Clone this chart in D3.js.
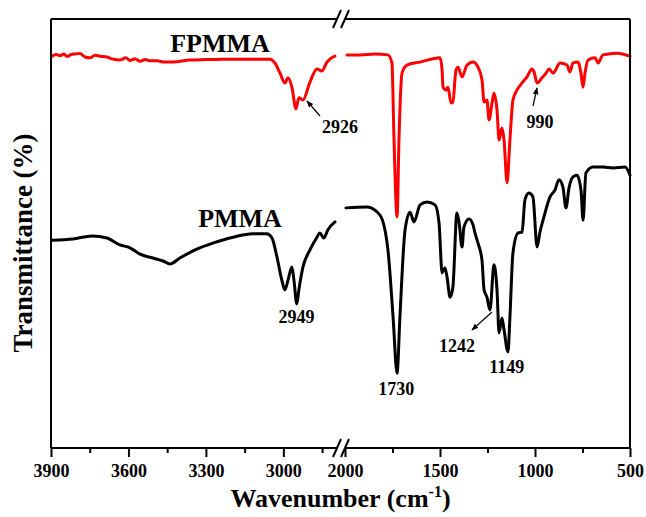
<!DOCTYPE html>
<html><head><meta charset="utf-8">
<script src="https://cdn.jsdelivr.net/npm/d3@7"></script>
<style>
html,body{margin:0;padding:0;background:#fff;}
svg{display:block;}
text{font-family:"Times New Roman","Liberation Serif",serif;font-weight:bold;fill:#000;}
</style></head>
<body>
<svg id="chart" width="646" height="517"></svg>
<script>
// ---------- data ----------
const leftDomain = [3900, 2800];
const rightDomain = [2000, 500];
const leftMajorTicks = [3900, 3600, 3300, 3000];
const leftMinorTicks = [3750, 3450, 3150, 2850];
const rightMajorTicks = [2000, 1500, 1000, 500];
const rightMinorTicks = [1750, 1250, 750];

// PMMA (black) — left segment
const pmmaLeftWn = [3896,3815,3741,3683,3633,3594,3555,3505,3466,3439,3401,3335,3273,3195,3118,3064,3044,3025,3006,2994,2982,2967,2959,2948,2940,2924,2897,2870,2859,2843,2828,2800];
const pmmaLeftT  = [48.9,49.2,49.9,49.4,47.8,47.1,45.6,44.7,44.0,43.3,44.7,46.8,48.2,49.6,50.4,50.4,49.4,45.0,39.5,37.2,39.5,42.6,39.5,33.9,37.2,42.6,46.6,49.6,50.6,49.4,51.3,53.2];
// PMMA (black) — right segment
const pmmaRightWn = [1995,1884,1816,1774,1747,1726,1711,1684,1658,1637,1605,1568,1526,1505,1489,1474,1463,1447,1432,1411,1400,1384,1374,1347,1326,1316,1300,1279,1268,1253,1237,1216,1200,1189,1174,1163,1142,1132,1116,1089,1068,1053,1032,1011,989,974,953,921,895,874,853,837,821,800,779,758,747,732,695,642,589,526,500];
const pmmaRightT  = [56.5,56.7,54.8,46.6,30.8,17.6,30.8,51.3,55.5,53.2,57.2,57.9,57.2,52.9,41.2,42.4,40.2,35.5,37.9,55.3,53.2,47.3,52.0,53.9,52.5,50.6,48.2,44.2,37.2,35.5,32.5,43.1,37.2,27.1,30.6,27.8,22.6,30.8,45.9,50.6,50.8,58.4,60.0,59.1,47.3,50.8,54.4,59.1,60.7,63.1,61.4,56.5,61.2,63.8,64.2,60.7,53.6,64.7,66.1,66.1,65.9,66.1,64.2];

// FPMMA (red) — left segment
const fpmmaLeftWn = [3896,3880,3865,3850,3838,3822,3807,3788,3768,3749,3730,3710,3683,3660,3633,3610,3594,3575,3555,3535,3517,3490,3459,3428,3362,3300,3234,3130,3052,3033,3013,2994,2982,2967,2951,2940,2924,2897,2870,2851,2831,2808,2800];
const fpmmaLeftT  = [92.2,92.6,92.3,92.7,92.1,92.6,92.7,92.8,92.0,91.8,92.4,92.2,92.0,91.5,91.3,91.8,91.2,91.6,91.0,91.4,91.1,91.1,90.8,90.8,91.3,91.4,91.5,91.5,91.5,90.6,88.2,85.9,87.1,84.9,79.8,82.4,81.9,86.1,89.2,88.7,90.8,92.0,92.2];
// FPMMA (red) — right segment
const fpmmaRightWn = [1989,1921,1842,1774,1753,1742,1726,1716,1700,1674,1605,1500,1489,1484,1468,1458,1442,1432,1416,1405,1384,1358,1326,1300,1279,1268,1253,1242,1226,1216,1200,1189,1174,1163,1147,1132,1116,1095,1068,1042,1016,1005,989,963,942,926,905,868,832,816,800,774,758,747,737,721,684,668,642,568,500];
const fpmmaRightT  = [92.5,92.5,92.7,92.5,90.6,72.5,54.4,72.5,88.2,90.1,90.8,91.8,88.9,84.9,84.2,84.9,81.2,81.4,88.9,89.6,87.3,90.1,90.8,89.6,86.6,81.4,81.9,77.2,81.2,83.5,79.5,72.5,75.3,72.5,62.4,72.5,81.9,84.2,85.9,87.3,89.2,88.5,85.9,87.1,88.2,89.2,88.2,90.6,90.1,88.5,90.6,90.8,88.2,84.9,88.2,91.3,91.8,90.6,92.5,92.9,92.2];

// annotations
const seriesNames = ["FPMMA", "PMMA"];
const peakLabels = ["2949", "1730", "1242", "1149", "2926", "990"];

// ---------- layout ----------
const svg = d3.select("#chart");
const X0 = 51, XB1 = 335, XB2 = 345, X1 = 630, YT = 19, YB = 448;
const xL = d3.scaleLinear().domain(leftDomain).range([X0, XB1]);
const xR = d3.scaleLinear().domain(rightDomain).range([XB2, X1]);
const y = d3.scaleLinear().domain([0, 100]).range([YB, 23]);

const zip = (a, b) => a.map((v, i) => [v, b[i]]);
function drawLine(wn, t, xs, color) {
  const line = d3.line().x(d => xs(d[0])).y(d => y(d[1])).curve(d3.curveMonotoneX);
  svg.append("path").datum(zip(wn, t)).attr("d", line)
    .attr("fill", "none").attr("stroke", color).attr("stroke-width", 3)
    .attr("stroke-linejoin", "round").attr("stroke-linecap", "round");
}
drawLine(fpmmaLeftWn, fpmmaLeftT, xL, "#ff0000");
drawLine(fpmmaRightWn, fpmmaRightT, xR, "#ff0000");
drawLine(pmmaLeftWn, pmmaLeftT, xL, "#000");
drawLine(pmmaRightWn, pmmaRightT, xR, "#000");

// ---------- frame with breaks ----------
const frame = svg.append("g").attr("stroke", "#000").attr("stroke-width", 2).attr("fill", "none");
const BL = 337, BR = 345;
[YT, YB].forEach(yy => {
  frame.append("line").attr("x1", X0).attr("x2", BL).attr("y1", yy).attr("y2", yy);
  frame.append("line").attr("x1", BR).attr("x2", X1).attr("y1", yy).attr("y2", yy);
  [BL, BR].forEach(cx => {
    frame.append("line").attr("x1", cx - 4).attr("y1", yy + 9).attr("x2", cx + 4).attr("y2", yy - 9);
  });
});
frame.append("line").attr("x1", X0).attr("x2", X0).attr("y1", YT).attr("y2", YB);
frame.append("line").attr("x1", X1).attr("x2", X1).attr("y1", YT).attr("y2", YB);

// ---------- axes ----------
function axisGroup(scale, major, minor) {
  const gMaj = svg.append("g").attr("transform", `translate(0,${YB})`)
    .call(d3.axisBottom(scale).tickValues(major).tickSize(9).tickPadding(4).tickFormat(d3.format("d")));
  const gMin = svg.append("g").attr("transform", `translate(0,${YB})`)
    .call(d3.axisBottom(scale).tickValues(minor).tickSize(5).tickFormat(""));
  [gMaj, gMin].forEach(g => {
    g.select(".domain").remove();
    g.selectAll(".tick line").attr("stroke", "#000").attr("stroke-width", 2);
  });
  gMaj.selectAll(".tick text").attr("font-size", 18).attr("fill", "#000")
    .attr("font-family", '"Times New Roman","Liberation Serif",serif').attr("font-weight", "bold")
    .attr("dy", null).attr("y", 29);
}
axisGroup(xL, leftMajorTicks, leftMinorTicks);
axisGroup(xR, rightMajorTicks, rightMinorTicks);

// axis titles
const xt = svg.append("text").attr("x", (X0 + X1) / 2).attr("y", 507)
  .attr("text-anchor", "middle").attr("font-size", 26);
xt.append("tspan").text("Wavenumber (cm");
xt.append("tspan").text("-1").attr("font-size", 16).attr("dy", -10);
xt.append("tspan").text(")").attr("dy", 10);

svg.append("text").attr("transform", `translate(32,243) rotate(-90)`)
  .attr("text-anchor", "middle").attr("font-size", 27).text("Transmittance (%)");

// series names
svg.append("text").attr("x", 220).attr("y", 52).attr("text-anchor", "middle").attr("font-size", 26).text(seriesNames[0]);
svg.append("text").attr("x", 240).attr("y", 227).attr("text-anchor", "middle").attr("font-size", 26).text(seriesNames[1]);

// peak labels
const lab = (t, xx, yy) => svg.append("text").attr("x", xx).attr("y", yy).attr("text-anchor", "middle").attr("font-size", 18).text(t);
lab(peakLabels[0], xL(2949), 323);
lab(peakLabels[1], xR(1730), 395);
lab(peakLabels[2], 457, 352);
lab(peakLabels[3], xR(1149), 373);
lab(peakLabels[4], 340, 133);
lab(peakLabels[5], 540, 128);

// arrows
svg.append("defs").append("marker").attr("id", "ah").attr("viewBox", "0 0 10 10")
  .attr("refX", 9).attr("refY", 5).attr("markerWidth", 7).attr("markerHeight", 7)
  .attr("markerUnits", "userSpaceOnUse").attr("orient", "auto")
  .append("path").attr("d", "M0,1 L10,5 L0,9 Z").attr("fill", "#000");
const arrow = (x1, y1, x2, y2) => svg.append("line").attr("x1", x1).attr("y1", y1).attr("x2", x2).attr("y2", y2)
  .attr("stroke", "#000").attr("stroke-width", 1.2).attr("marker-end", "url(#ah)");
arrow(320, 116, 307, 101);
arrow(533, 106, 537, 88);
arrow(492, 312, 472, 330);
</script>
</body></html>
